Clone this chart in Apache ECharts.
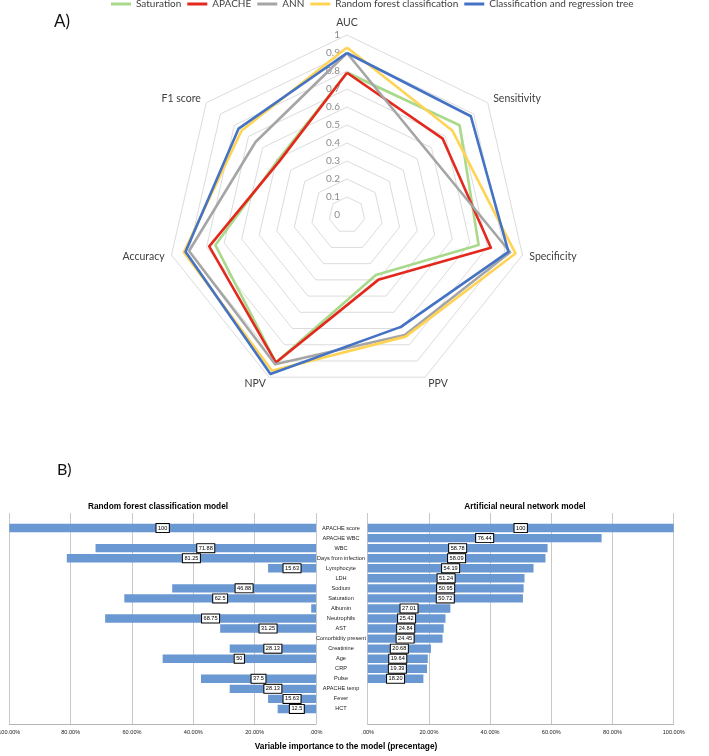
<!DOCTYPE html>
<html>
<head>
<meta charset="utf-8">
<script src="https://cdn.jsdelivr.net/npm/echarts@6/dist/echarts.min.js"></script>
<style>html,body{margin:0;padding:0;background:#fff;}#chart{width:709px;height:756px;}</style>
</head>
<body>
<div id="chart"></div>
<script>
// ---- Panel A: radar data (order: AUC, Sensitivity, Specificity, PPV, NPV, Accuracy, F1 score)
const radarIndicators = ['AUC', 'Sensitivity', 'Specificity', 'PPV', 'NPV', 'Accuracy', 'F1 score'];
const modelNames = ['Saturation', 'APACHE', 'ANN', 'Random forest classification', 'Classification and regression tree'];
const saturationScores = [0.79, 0.80, 0.75, 0.37, 0.91, 0.75, 0.49];
const apacheScores     = [0.79, 0.68, 0.82, 0.40, 0.91, 0.785, 0.48];
const annScores        = [0.90, 0.57, 0.93, 0.74, 0.92, 0.90, 0.65];
const rfScores         = [0.93, 0.75, 0.96, 0.75, 0.96, 0.93, 0.75];
const cartScores       = [0.90, 0.88, 0.92, 0.69, 0.98, 0.92, 0.77];

// ---- Panel B: variable importance (percent)
const variables = ['APACHE score', 'APACHE WBC', 'WBC', 'Days from infection', 'Lymphocyte', 'LDH', 'Sodium',
  'Saturation', 'Albumin', 'Neutrophils', 'AST', 'Comorbidity present', 'Creatinine', 'Age', 'CRP', 'Pulse',
  'APACHE temp', 'Fever', 'HCT'];
const rfImportance  = [100, null, 71.88, 81.25, 15.63, null, 46.88, 62.5, 1.56, 68.75, 31.25, null, 28.13, 50, null, 37.5, 28.13, 15.63, 12.5];
const annImportance = [100, 76.44, 58.78, 58.09, 54.19, 51.24, 50.95, 50.72, 27.01, 25.42, 24.84, 24.45, 20.68, 19.64, 19.39, 18.20, null, null, null];
const importanceTicks = [0, 20, 40, 60, 80, 100];

const radarColors = ['#a9d98b', '#e3291d', '#a5a5a5', '#ffd455', '#4472c4'];
const allScores = [saturationScores, apacheScores, annScores, rfScores, cartScores];

// ECharts places radar indicators counter-clockwise; reference goes clockwise from top.
const ccwOrder = [0, 6, 5, 4, 3, 2, 1];

const catData = [' '].concat(variables).concat(['  ']);
const pad = arr => [null].concat(arr).concat([null]);
const barItems = (arr) => pad(arr).map(v => v == null ? null : { value: v, label: { show: v >= 5 } });

const barLabel = (fmt) => ({
  show: true, position: 'inside', fontSize: 5.6, fontFamily: 'Liberation Sans', color: '#000',
  backgroundColor: '#fff', borderColor: '#000', borderWidth: 1, padding: [1.5, 1.5, 0.5, 1.5],
  formatter: fmt
});
const pctFmt = v => (v === 0 ? '.00%' : v.toFixed(2) + '%');

const chart = echarts.init(document.getElementById('chart'), null, { renderer: 'canvas' });
chart.setOption({
  animation: false,
  backgroundColor: '#fff',
  title: [
    { text: 'A)', left: 54, top: 22, padding: 0, textAlign: 'left', textVerticalAlign: 'middle',
      textStyle: { fontFamily: 'Lato', fontSize: 17, fontWeight: 'normal', color: '#111' } },
    { text: 'B)', left: 57, top: 470, padding: 0, textAlign: 'left', textVerticalAlign: 'middle',
      textStyle: { fontFamily: 'Lato', fontSize: 16, fontWeight: 'normal', color: '#111' } },
    { text: 'Random forest classification model', left: 158, top: 507, padding: 0, textAlign: 'center', textVerticalAlign: 'middle',
      textStyle: { fontFamily: 'Liberation Sans', fontSize: 8.3, fontWeight: 'bold', color: '#000' } },
    { text: 'Artificial neural network model', left: 525, top: 507, padding: 0, textAlign: 'center', textVerticalAlign: 'middle',
      textStyle: { fontFamily: 'Liberation Sans', fontSize: 8.3, fontWeight: 'bold', color: '#000' } },
    { text: 'Variable importance to the model (precentage)', left: 346, top: 747, padding: 0, textAlign: 'center', textVerticalAlign: 'middle',
      textStyle: { fontFamily: 'Liberation Sans', fontSize: 8.3, fontWeight: 'bold', color: '#000' } }
  ],
  legend: {
    data: modelNames, left: 111, top: -1, padding: 0, icon: 'rect', itemWidth: 20, itemHeight: 3, itemGap: 6,
    textStyle: { fontFamily: 'Lato', fontSize: 10, color: '#404040' }
  },
  radar: {
    center: [347, 215], radius: 180, startAngle: 90, splitNumber: 10, shape: 'polygon',
    nameGap: 7,
    axisName: { color: '#404040', fontFamily: 'Lato', fontSize: 10.5 },
    splitLine: { lineStyle: { color: '#dcdcdc', width: 1 } },
    splitArea: { show: false },
    axisLine: { show: false },
    axisTick: { show: false },
    axisLabel: { show: false },
    indicator: ccwOrder.map((k, i) => {
      const ind = { name: radarIndicators[k], min: 0, max: 1 };
      if (i === 0) ind.axisLabel = { show: true, color: '#8c8c8c', fontFamily: 'Lato', fontSize: 10, margin: 7 };
      return ind;
    })
  },
  grid: [
    { left: 9.3, top: 513, width: 306.7, height: 211, containLabel: false, outerBoundsMode: 'none' },
    { left: 367.7, top: 513, width: 306, height: 211, containLabel: false, outerBoundsMode: 'none' }
  ],
  xAxis: [
    { gridIndex: 0, type: 'value', min: 0, max: 100, interval: 20, inverse: true,
      axisLine: { show: true, lineStyle: { color: '#b4b4b4' } }, axisTick: { show: false },
      splitLine: { show: true, lineStyle: { color: '#c8c8c8' } },
      axisLabel: { fontSize: 5.6, fontFamily: 'Liberation Sans', color: '#222', margin: 5, formatter: pctFmt,
        customValues: importanceTicks } },
    { gridIndex: 1, type: 'value', min: 0, max: 100, interval: 20,
      axisLine: { show: true, lineStyle: { color: '#b4b4b4' } }, axisTick: { show: false },
      splitLine: { show: true, lineStyle: { color: '#c8c8c8' } },
      axisLabel: { fontSize: 5.6, fontFamily: 'Liberation Sans', color: '#222', margin: 5, formatter: pctFmt,
        customValues: importanceTicks } }
  ],
  yAxis: [
    { gridIndex: 0, type: 'category', data: catData, inverse: true, position: 'right',
      axisLine: { show: false }, axisTick: { show: false }, splitLine: { show: false },
      axisLabel: { show: true, interval: 0, align: 'center', margin: 25, fontSize: 5.6, fontFamily: 'Liberation Sans', color: '#222' } },
    { gridIndex: 1, type: 'category', data: catData, inverse: true,
      axisLine: { show: false }, axisTick: { show: false }, splitLine: { show: false }, axisLabel: { show: false } }
  ],
  series: [
    {
      type: 'radar', symbol: 'none',
      data: modelNames.map((m, i) => ({
        name: m,
        value: ccwOrder.map(k => allScores[i][k]),
        lineStyle: { color: radarColors[i], width: 2.6 },
        itemStyle: { color: radarColors[i] }
      }))
    },
    {
      type: 'bar', xAxisIndex: 0, yAxisIndex: 0, barWidth: 8.4,
      itemStyle: { color: '#6a98d2' },
      label: barLabel(p => String(p.value)),
      data: barItems(rfImportance)
    },
    {
      type: 'bar', xAxisIndex: 1, yAxisIndex: 1, barWidth: 8.4,
      itemStyle: { color: '#6a98d2' },
      label: barLabel(p => (Number.isInteger(p.value) ? String(p.value) : p.value.toFixed(2))),
      data: barItems(annImportance)
    }
  ]
});
</script>
</body>
</html>
